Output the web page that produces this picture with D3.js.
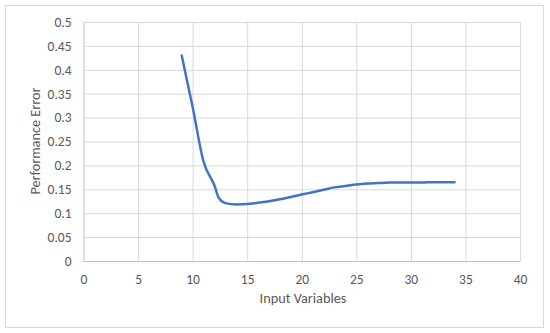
<!DOCTYPE html>
<html><head><meta charset="utf-8">
<script src="https://cdn.jsdelivr.net/npm/d3@7"></script>
<style>body{margin:0;background:#fff;} text{font-family:Carlito,"Open Sans","Liberation Sans",sans-serif;}</style>
</head><body>
<svg id="c" width="550" height="333"></svg>
<script>
const xValues = [9, 10, 11, 12, 12.4, 13, 14, 15, 16, 17, 18, 19, 20, 21, 22, 23, 24, 25, 26, 27, 28, 29, 30, 31, 32, 33, 34];
const errValues = [0.43, 0.322, 0.208, 0.158, 0.132, 0.121, 0.118, 0.119, 0.122, 0.125, 0.129, 0.134, 0.139, 0.144, 0.149, 0.154, 0.157, 0.16, 0.162, 0.163, 0.164, 0.164, 0.164, 0.164, 0.165, 0.165, 0.165];
const xTicks = [0, 5, 10, 15, 20, 25, 30, 35, 40];
const yTicks = [0, 0.05, 0.1, 0.15, 0.2, 0.25, 0.3, 0.35, 0.4, 0.45, 0.5];
const xTitle = "Input Variables";
const yTitle = "Performance Error";

const svg = d3.select("#c");
svg.append("rect").attr("x",5.5).attr("y",5.5).attr("width",538).attr("height",322)
  .attr("fill","#fff").attr("stroke","#d9d9d9");
const L=83.5, R=520, T=22, B=261;
const x = d3.scaleLinear().domain([0,40]).range([L,R]);
const y = d3.scaleLinear().domain([0,0.5]).range([B,T]);

const gx = svg.append("g").attr("transform",`translate(0,${B})`)
  .call(d3.axisBottom(x).tickValues(xTicks).tickSize(-(B-T)).tickPadding(13).tickFormat(d3.format("d")));
const gy = svg.append("g").attr("transform",`translate(${L},0)`)
  .call(d3.axisLeft(y).tickValues(yTicks).tickSize(-(R-L)).tickPadding(12).tickFormat(d=>String(d)));
[gx,gy].forEach(g=>{
  g.select(".domain").remove();
  g.selectAll(".tick line").attr("stroke","#d9d9d9").attr("stroke-width",1);
  g.selectAll(".tick text").attr("fill","#595959").attr("font-size",13.5);
});
gx.selectAll(".tick line").filter(d=>d===0).attr("stroke","#bfbfbf");
gy.selectAll(".tick line").filter(d=>d===0).attr("stroke","#bfbfbf");

const data = xValues.map((v,i)=>[v,errValues[i]]);
svg.append("path").datum(data)
  .attr("fill","none").attr("stroke","#4472C4").attr("stroke-width",2.5).attr("stroke-linecap","round")
  .attr("d", d3.line().x(d=>x(d[0])).y(d=>y(d[1])).curve(d3.curveMonotoneX));

svg.append("text").attr("x",303).attr("y",303).attr("text-anchor","middle")
  .attr("fill","#595959").attr("font-size",14.3).text(xTitle);
svg.append("text").attr("transform","translate(40,141) rotate(-90)").attr("text-anchor","middle")
  .attr("fill","#595959").attr("font-size",14.3).text(yTitle);
</script>
</body></html>
